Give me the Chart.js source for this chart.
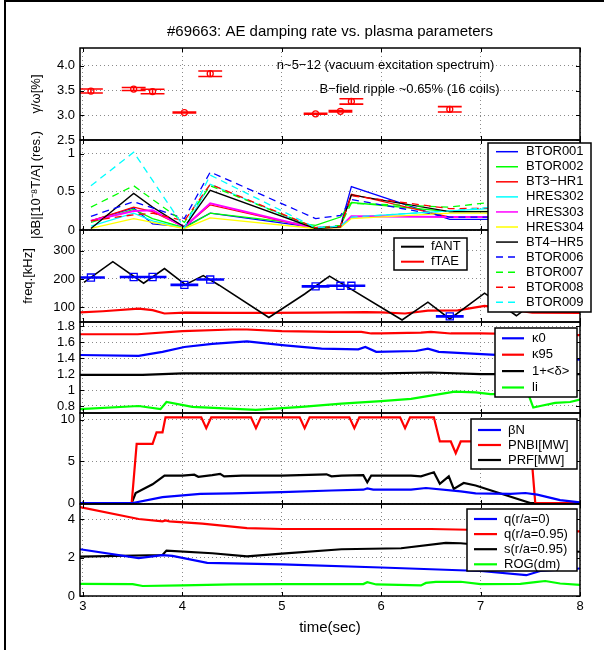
<!DOCTYPE html>
<html>
<head>
<meta charset="utf-8">
<script src="https://cdn.jsdelivr.net/npm/chart.js@4.4.1/dist/chart.umd.min.js"></script>
<style>
  html, body { margin: 0; padding: 0; background: #fff; overflow: hidden; }
  #page { position: relative; width: 604px; height: 650px; }
  #frame { position: absolute; left: 4px; top: 0; width: 600px; height: 650px;
           border-left: 2px solid #000; border-top: 2px solid #000; box-sizing: border-box; }
  canvas { position: absolute; left: 0; z-index: 1; }
  #p2 { z-index: 3; }
</style>
</head>
<body>
<div id="page">
  <div id="frame"></div>
  <canvas id="p1"></canvas>
  <canvas id="p2"></canvas>
  <canvas id="p3"></canvas>
  <canvas id="p4"></canvas>
  <canvas id="p5"></canvas>
  <canvas id="p6"></canvas>
</div>
<script>
// ---------- data ----------
const xTicks = [3, 4, 5, 6, 7, 8];

// panel 1: damping rate (gamma/omega) with error bars
const aeTimes   = [3.08, 3.51, 3.70, 4.02, 4.28, 5.34, 5.59, 5.70, 6.69];
const gammaVals = [3.49, 3.53, 3.48, 3.055, 3.84, 3.03, 3.08, 3.28, 3.12];
const gammaErr  = [0.04, 0.03, 0.045, 0.01, 0.055, 0.01, 0.015, 0.055, 0.055];
const gammaTicks = [2.5, 3, 3.5, 4];

// panel 2: |dB| per sensor
const dbTimes = [3.08, 3.51, 3.70, 4.02, 4.28, 5.34, 5.59, 5.70, 6.69, 8.0];
const dbNames = ['BTOR001', 'BTOR002', 'BT3\u2212HR1', 'HRES302', 'HRES303', 'HRES304',
                 'BT4\u2212HR5', 'BTOR006', 'BTOR007', 'BTOR008', 'BTOR009'];
const dbBTOR001 = [0.12, 0.29, 0.08, 0.04, 0.22, 0.03, 0.05, 0.57, 0.14, 0.14];
const dbBTOR002 = [0.10, 0.27, 0.15, 0.03, 0.22, 0.06, 0.17, 0.36, 0.24, 0.25];
const dbBT3HR1  = [0.12, 0.30, 0.24, 0.04, 0.33, 0.02, 0.04, 0.47, 0.17, 0.17];
const dbHRES302 = [0.05, 0.22, 0.12, 0.02, 0.60, 0.02, 0.04, 0.17, 0.25, 0.35];
const dbHRES303 = [0.12, 0.25, 0.26, 0.04, 0.35, 0.02, 0.04, 0.18, 0.17, 0.17];
const dbHRES304 = [0.02, 0.15, 0.10, 0.02, 0.16, 0.02, 0.03, 0.15, 0.22, 0.22];
const dbBT4HR5  = [0.02, 0.48, 0.30, 0.04, 0.52, 0.02, 0.04, 0.46, 0.24, 0.24];
const dbBTOR006 = [0.18, 0.37, 0.29, 0.15, 0.76, 0.15, 0.19, 0.40, 0.17, 0.17];
const dbBTOR007 = [0.30, 0.58, 0.40, 0.10, 0.58, 0.03, 0.06, 0.35, 0.30, 0.50];
const dbBTOR008 = [0.12, 0.20, 0.22, 0.12, 0.60, 0.03, 0.05, 0.45, 0.28, 0.30];
const dbBTOR009 = [0.58, 1.02, 0.65, 0.03, 0.72, 0.03, 0.05, 0.17, 0.25, 0.40];
const dbTicks = [0, 0.5, 1];

// panel 3: frequencies
const fantTimes = [3.01, 3.30, 3.61, 3.82, 4.03, 4.21, 4.37, 4.87, 5.23, 5.48, 6.21, 6.47, 6.69, 7.04, 7.36, 7.70, 8.00];
const fantVals  = [188, 261, 185, 237, 180, 212, 178, 64, 147, 210, 55, 118, 59, 150, 70, 160, 110];
const ftaeTimes = [2.97, 3.2, 3.56, 3.7, 3.82, 4.03, 4.5, 4.86, 5.3, 5.84, 6.0, 6.24, 6.47, 6.77, 7.04, 7.52, 8.0];
const ftaeVals  = [82, 86, 95, 90, 78, 81, 80, 80, 81, 83, 82, 78, 88, 89, 105, 81, 80];
const faeVals   = [205, 207, 207, 179, 198, 174, 176, 176, 68];
const faeErr    = [2, 2, 2, 2, 2, 2, 2, 2, 2];
const freqTicks = [100, 200, 300];

// panel 4: shape
const k95Times = [2.97, 3.55, 4.0, 4.5, 4.65, 5.0, 5.5, 5.8, 5.9, 6.0, 6.4, 6.5, 6.7, 7.0, 7.5, 8.0];
const k95Vals  = [1.70, 1.70, 1.74, 1.76, 1.76, 1.74, 1.73, 1.73, 1.71, 1.71, 1.72, 1.73, 1.71, 1.71, 1.70, 1.69];
const k0Times  = [2.97, 3.56, 3.8, 4.02, 4.3, 4.65, 5.03, 5.4, 5.77, 5.84, 5.95, 6.35, 6.47, 6.58, 7.01, 7.5, 8.0];
const k0Vals   = [1.44, 1.43, 1.48, 1.54, 1.58, 1.61, 1.56, 1.52, 1.51, 1.54, 1.48, 1.49, 1.52, 1.48, 1.45, 1.42, 1.38];
const deltaTimes = [2.97, 3.6, 4.0, 5.0, 6.0, 6.5, 7.0, 8.0];
const deltaVals  = [1.19, 1.19, 1.21, 1.21, 1.21, 1.22, 1.20, 1.20];
const liTimes = [2.97, 3.56, 3.78, 3.84, 4.1, 4.74, 5.2, 5.6, 6.0, 6.3, 6.74, 6.95, 7.1, 7.48, 7.53, 7.6, 7.75, 7.9, 8.0];
const liVals  = [0.76, 0.80, 0.76, 0.85, 0.79, 0.75, 0.79, 0.83, 0.86, 0.89, 0.98, 0.97, 0.95, 0.95, 0.78, 0.80, 0.84, 0.85, 0.88];
const shapeTicks = [0.8, 1, 1.2, 1.4, 1.6, 1.8];

// panel 5: heating and beta
const betaTimes = [2.97, 3.5, 3.8, 4.18, 4.5, 5.0, 5.5, 5.82, 5.86, 5.92, 6.3, 6.45, 6.8, 6.95, 7.3, 7.45, 7.57, 7.8, 8.0];
const betaVals  = [0, 0, 0.7, 1.1, 1.15, 1.3, 1.5, 1.6, 1.75, 1.6, 1.6, 1.8, 1.4, 1.15, 1.1, 1.2, 1.0, 0.35, 0.08];
const pnbiTimes = [2.97, 3.49, 3.54, 3.70, 3.74, 3.80, 3.83, 4.19, 4.24, 4.29, 4.69, 4.74, 4.79, 5.18, 5.23, 5.28,
                   5.68, 5.73, 5.78, 6.19, 6.24, 6.29, 6.53, 6.59, 6.70, 6.75, 6.80, 7.50, 7.55, 8.0];
const pnbiVals  = [0, 0, 7.1, 7.1, 8.5, 8.5, 10.3, 10.3, 9.0, 10.3, 10.3, 9.0, 10.3, 10.3, 9.0, 10.3,
                   10.3, 9.0, 10.3, 10.3, 9.0, 10.3, 10.3, 7.4, 7.4, 6.0, 7.4, 7.4, 0, 0];
const prfTimes = [2.97, 3.49, 3.53, 3.70, 3.82, 4.0, 4.12, 4.16, 4.3, 4.38, 4.42, 4.6, 5.0, 5.45, 5.5, 5.6,
                  5.82, 5.86, 5.9, 6.3, 6.4, 6.53, 6.59, 6.68, 6.73, 6.83, 6.95, 7.5, 8.0];
const prfVals  = [0, 0, 1.2, 2.25, 3.3, 3.3, 3.4, 3.15, 3.35, 3.5, 3.2, 3.3, 3.3, 3.45, 3.2, 3.3,
                  3.35, 2.5, 3.3, 3.3, 3.2, 3.7, 2.3, 3.2, 1.7, 2.4, 2.1, 0, 0];
const powerTicks = [0, 5, 10];

// panel 6: q, shear, ROG
const q0Times  = [2.97, 3.56, 3.8, 3.9, 4.25, 5.0, 6.0, 7.0, 7.46, 7.6, 8.0];
const q0Vals   = [2.43, 1.97, 2.12, 2.08, 1.72, 1.64, 1.48, 1.30, 1.08, 1.3, 1.43];
const q95Times = [2.97, 3.56, 3.8, 3.83, 3.87, 4.2, 4.65, 5.0, 6.0, 6.5, 7.0, 7.5, 8.0];
const q95Vals  = [4.62, 4.0, 3.88, 3.93, 3.88, 3.76, 3.53, 3.48, 3.48, 3.48, 3.43, 3.38, 3.36];
const s95Times = [2.97, 3.8, 3.84, 4.3, 4.65, 5.0, 5.6, 6.2, 6.65, 6.8, 7.0, 7.5, 8.0];
const s95Vals  = [2.05, 2.13, 2.36, 2.22, 2.06, 2.2, 2.43, 2.48, 2.76, 2.74, 2.65, 2.4, 2.3];
const rogTimes = [2.97, 3.5, 3.6, 4.0, 4.5, 5.0, 5.5, 5.82, 5.86, 5.95, 6.4, 6.45, 6.55, 6.8, 7.0, 7.4, 7.55, 7.65, 7.8, 8.0];
const rogVals  = [0.63, 0.62, 0.52, 0.55, 0.60, 0.62, 0.62, 0.62, 0.72, 0.60, 0.55, 0.68, 0.73, 0.74, 0.62, 0.63, 0.72, 0.78, 0.65, 0.58];
const qTicks = [0, 2, 4];

// ---------- styling ----------
const FONT = "'Liberation Sans', Arial, Helvetica, sans-serif";
Chart.defaults.font.family = FONT;
Chart.defaults.font.size = 13;
Chart.defaults.color = '#000';

const AREA_L = 80, AREA_R = 580, PAD = 14;
const BLUE = '#0000ff', GREEN = '#00ff00', RED = '#ff0000', CYAN = '#00ffff',
      MAGENTA = '#ff00ff', YELLOW = '#ffff00', BLACK = '#000000';
const dbColors = [BLUE, GREEN, RED, CYAN, MAGENTA, YELLOW, BLACK, BLUE, GREEN, RED, CYAN];
const DASH = [7, 5];

const pts = (ts, vs) => ts.map((t, i) => ({ x: t, y: vs[i] }));

// error bar caps as line segments built from the values
function errorSegments(ts, vs, es, half) {
  const out = [];
  ts.forEach((t, i) => {
    const v = vs[i], e = es[i];
    out.push({ x: t - half, y: v + e }, { x: t + half, y: v + e }, { x: t, y: null });
    out.push({ x: t - half, y: v - e }, { x: t + half, y: v - e }, { x: t, y: null });
    out.push({ x: t, y: v - e }, { x: t, y: v + e }, { x: t, y: null });
  });
  return out;
}

function series(label, ts, vs, color, width, dash) {
  return { label, data: pts(ts, vs), borderColor: color, backgroundColor: color,
           borderWidth: width, borderDash: dash || [], pointRadius: 0, tension: 0 };
}

function yScale(min, max, ticks, fmt, title, titlePad) {
  return {
    type: 'linear', position: 'left', min, max,
    afterBuildTicks: s => { s.ticks = ticks.map(v => ({ value: v })); },
    afterFit: s => { s.width = AREA_L; },
    ticks: { padding: 5, autoSkip: false, callback: fmt || (v => String(Math.round(v * 100) / 100)) },
    grid: { color: '#8a8a8a', lineWidth: 1, drawTicks: false },
    border: { display: false, dash: [1, 3] },
    title: title ? { display: true, text: title, font: { size: 13 }, padding: { top: titlePad, bottom: 0 } }
                 : { display: false }
  };
}

function xScale(showLabels) {
  return {
    type: 'linear', position: 'bottom', min: 2.97, max: 8,
    afterBuildTicks: s => { s.ticks = xTicks.map(v => ({ value: v })); },
    afterFit: s => { s.height = showLabels ? 44 : 0; },
    ticks: { display: showLabels, padding: 3, autoSkip: false, maxRotation: 0, callback: v => String(v) },
    grid: { color: '#8a8a8a', lineWidth: 1, drawTicks: false },
    border: { display: false, dash: [1, 3] },
    title: showLabels ? { display: true, text: 'time(sec)', font: { size: 15 }, padding: { top: 0, bottom: 3 } }
                      : { display: false }
  };
}

function decor(cfg) {
  return {
    id: 'decor',
    afterDatasetsDraw(chart) {
      const { ctx, chartArea: a, scales } = chart;
      ctx.save();
      ctx.strokeStyle = '#000';
      ctx.lineWidth = 1;
      ctx.beginPath();
      scales.x.ticks.forEach(t => {
        const px = Math.round(scales.x.getPixelForValue(t.value)) + 0.5;
        ctx.moveTo(px, a.top); ctx.lineTo(px, a.top + 4);
        ctx.moveTo(px, a.bottom); ctx.lineTo(px, a.bottom - 4);
      });
      scales.y.ticks.forEach(t => {
        const py = Math.round(scales.y.getPixelForValue(t.value)) + 0.5;
        ctx.moveTo(a.left, py); ctx.lineTo(a.left + 4, py);
        ctx.moveTo(a.right, py); ctx.lineTo(a.right - 4, py);
      });
      ctx.stroke();
      ctx.lineWidth = 1.5;
      ctx.strokeRect(a.left, a.top, a.right - a.left, a.bottom - a.top);
      (cfg.notes || []).forEach(n => {
        ctx.font = '13px ' + FONT;
        ctx.fillStyle = '#000';
        ctx.textAlign = 'left';
        ctx.textBaseline = 'middle';
        ctx.fillText(n.text, scales.x.getPixelForValue(n.x), scales.y.getPixelForValue(n.y));
      });
      ctx.restore();
    },
    afterDraw(chart) {
      const lg = cfg.legend;
      if (!lg) return;
      const ctx = chart.ctx, off = cfg.canvasTop;
      const items = chart.data.datasets.filter(d => d.label);
      ctx.save();
      ctx.fillStyle = '#fff';
      ctx.fillRect(lg.left, lg.top - off, lg.w, lg.h);
      ctx.strokeStyle = '#000';
      ctx.lineWidth = 1.5;
      ctx.strokeRect(lg.left, lg.top - off, lg.w, lg.h);
      ctx.font = '13px ' + FONT;
      ctx.textAlign = 'left';
      ctx.textBaseline = 'middle';
      items.forEach((d, i) => {
        const cy = lg.firstY + i * lg.rowH - off;
        ctx.strokeStyle = d.borderColor;
        ctx.lineWidth = lg.lineW;
        ctx.setLineDash(d.borderDash || []);
        ctx.beginPath();
        ctx.moveTo(lg.x1, cy); ctx.lineTo(lg.x2, cy);
        ctx.stroke();
        ctx.setLineDash([]);
        ctx.fillStyle = '#000';
        ctx.fillText(d.label, lg.textX, cy);
      });
      ctx.restore();
    }
  };
}

function makePanel(id, cfg) {
  const cv = document.getElementById(id);
  cv.width = 604; cv.height = cfg.height;
  cv.style.width = '604px'; cv.style.height = cfg.height + 'px';
  cv.style.top = cfg.canvasTop + 'px';
  return new Chart(cv, {
    type: 'line',
    data: { datasets: cfg.datasets },
    options: {
      responsive: false, animation: false, events: [],
      spanGaps: false,
      layout: { padding: { left: 0, right: 604 - AREA_R, top: cfg.padTop, bottom: cfg.padBottom } },
      scales: { x: xScale(!!cfg.xLabels), y: cfg.y },
      plugins: {
        legend: { display: false },
        tooltip: { enabled: false },
        title: cfg.title ? { display: true, text: cfg.title, fullSize: false,
                             font: { size: 15, weight: 'normal' }, color: '#000',
                             padding: { top: 23, bottom: 7 } } : { display: false }
      }
    },
    plugins: [decor(cfg)]
  });
}

// ---------- panels ----------
makePanel('p1', {
  canvasTop: 0, height: 154, padTop: 0, padBottom: 14,
  title: '#69663: AE damping rate vs. plasma parameters',
  y: yScale(2.5, 4.36, gammaTicks, v => v.toFixed(1), '\u03b3/\u03c9[%]', 29),
  notes: [
    { text: 'n~5\u221212 (vacuum excitation spectrum)', x: 4.95, y: 4.0 },
    { text: 'B\u2212field ripple ~0.65% (16 coils)', x: 5.38, y: 3.53 }
  ],
  datasets: [
    { data: pts(aeTimes, gammaVals), showLine: false, pointStyle: 'circle', pointRadius: 3,
      pointBorderColor: RED, pointBackgroundColor: 'rgba(0,0,0,0)', pointBorderWidth: 1.3, order: -2 },
    { data: errorSegments(aeTimes, gammaVals, gammaErr, 0.12), borderColor: RED, borderWidth: 1.6,
      pointRadius: 0, order: -1 }
  ]
});

const dbSeries = [dbBTOR001, dbBTOR002, dbBT3HR1, dbHRES302, dbHRES303, dbHRES304,
                  dbBT4HR5, dbBTOR006, dbBTOR007, dbBTOR008, dbBTOR009];
makePanel('p2', {
  canvasTop: 126, height: 204, padTop: 14, padBottom: 100,
  y: yScale(0, 1.18, dbTicks, null, '|\u03b4B|[10\u207b\u2078T/A] (res.)', 29),
  legend: { left: 488, top: 143, w: 103, h: 169, firstY: 151.7, rowH: 15.06,
            x1: 496, x2: 518, textX: 526, lineW: 1.5 },
  datasets: dbSeries.map((vals, i) =>
    Object.assign(series(dbNames[i], dbTimes, vals, dbColors[i], i === 4 ? 2 : 1.3, i >= 7 ? DASH : null),
                  { order: -i }))
});

makePanel('p3', {
  canvasTop: 216, height: 120, padTop: 14, padBottom: 14,
  y: yScale(48, 373, freqTicks, null, 'freq.[kHz]', 21),
  legend: { left: 394, top: 238, w: 73, h: 32, firstY: 246.7, rowH: 15,
            x1: 401, x2: 424, textX: 431, lineW: 2 },
  datasets: [
    series('fANT', fantTimes, fantVals, BLACK, 1.6),
    series('fTAE', ftaeTimes, ftaeVals, RED, 2.2),
    { data: errorSegments(aeTimes, faeVals, faeErr, 0.14), borderColor: BLUE, borderWidth: 1.5,
      pointRadius: 0, order: -1 },
    { data: pts(aeTimes, faeVals), showLine: false, pointStyle: 'rect', pointRadius: 5,
      pointBorderColor: BLUE, pointBackgroundColor: 'rgba(0,0,0,0)', pointBorderWidth: 1.3, order: -2 }
  ]
});

makePanel('p4', {
  canvasTop: 308, height: 119, padTop: 14, padBottom: 14,
  y: yScale(0.712, 1.854, shapeTicks),
  legend: { left: 495, top: 328, w: 82, h: 69, firstY: 338.3, rowH: 16.4,
            x1: 502, x2: 524, textX: 532, lineW: 2.2 },
  datasets: [
    series('\u03ba0', k0Times, k0Vals, BLUE, 2.2),
    series('\u03ba95', k95Times, k95Vals, RED, 2.2),
    series('1+<\u03b4>', deltaTimes, deltaVals, BLACK, 2.2),
    series('li', liTimes, liVals, GREEN, 2.2)
  ]
});

makePanel('p5', {
  canvasTop: 399, height: 119, padTop: 14, padBottom: 14,
  y: yScale(-0.12, 10.82, powerTicks),
  legend: { left: 471, top: 419, w: 106, h: 50, firstY: 430, rowH: 15,
            x1: 478, x2: 501, textX: 508, lineW: 2.2 },
  datasets: [
    series('\u03b2N', betaTimes, betaVals, BLUE, 2.2),
    series('PNBI[MW]', pnbiTimes, pnbiVals, RED, 2.2),
    series('PRF[MW]', prfTimes, prfVals, BLACK, 2.2)
  ]
});

makePanel('p6', {
  canvasTop: 490, height: 160, padTop: 14, padBottom: 10, xLabels: true,
  y: yScale(0, 4.78, qTicks),
  legend: { left: 467, top: 509, w: 110, h: 62, firstY: 519, rowH: 15.1,
            x1: 474, x2: 497, textX: 504, lineW: 2.2 },
  datasets: [
    series('q(r/a=0)', q0Times, q0Vals, BLUE, 2.2),
    series('q(r/a=0.95)', q95Times, q95Vals, RED, 2.2),
    series('s(r/a=0.95)', s95Times, s95Vals, BLACK, 2.2),
    series('ROG(dm)', rogTimes, rogVals, GREEN, 2.2)
  ]
});
</script>
</body>
</html>
